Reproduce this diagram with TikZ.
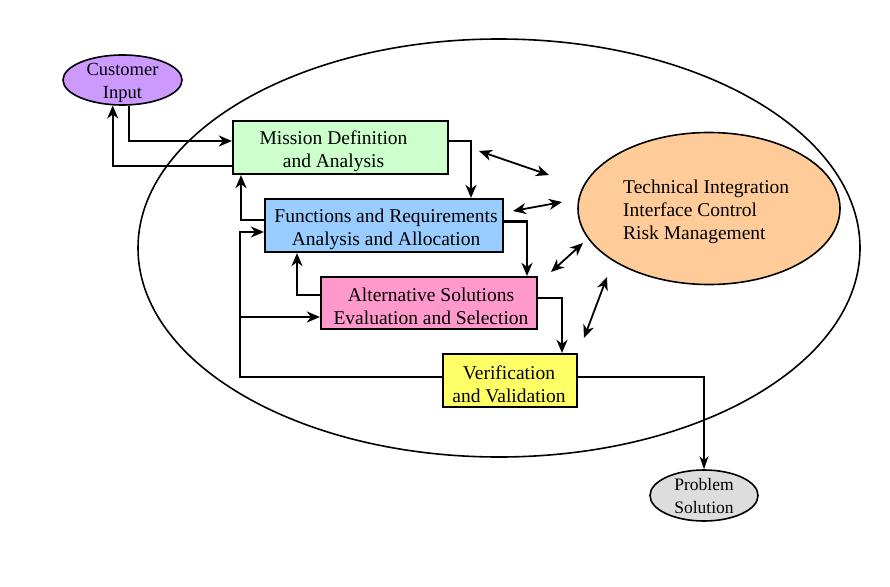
\documentclass[tikz,border=0pt]{standalone}
\usepackage{fontspec}
\setmainfont{Liberation Serif}
\usetikzlibrary{shapes.geometric,arrows.meta,calc}
\definecolor{custc}{HTML}{CC99FF}
\definecolor{missc}{HTML}{CCFFCC}
\definecolor{funcc}{HTML}{99CCFF}
\definecolor{altc}{HTML}{FF99CC}
\definecolor{verc}{HTML}{FFFF66}
\definecolor{techc}{HTML}{FFCC99}
\definecolor{probc}{HTML}{DDDDDD}
\tikzset{
  boxnode/.style={draw=black, line width=2.2pt, rectangle, inner sep=0pt},
  ovalnode/.style={draw=black, line width=1.6pt, ellipse, inner sep=0pt},
  txt/.style={inner sep=0pt, align=center, font=\fontsize{19.5}{23}\selectfont},
  arr/.style={line width=2.2pt, -{Stealth[length=13pt,width=11pt,inset=4pt]}},
  thinarr/.style={line width=1.2pt, -{Stealth[length=13pt,width=9pt,inset=4pt]}},
  dbl/.style={line width=1.8pt, {Stealth[length=13pt,width=11pt,inset=4pt]}-{Stealth[length=13pt,width=11pt,inset=4pt]}}
}
\begin{document}
\begin{tikzpicture}[x=1pt,y=-1pt]
\useasboundingbox[fill=white] (0,0) rectangle (890,586);
% big ellipse
\node[ovalnode, minimum width=722, minimum height=418] (big) at (499,248) {};
% shapes
\node[ovalnode, fill=custc, minimum width=119, minimum height=50] (cust) at (122.5,80) {};
\node[boxnode, fill=missc, minimum width=215, minimum height=53] (mission) at (340.5,147.5) {};
\node[boxnode, fill=funcc, minimum width=238, minimum height=53] (func) at (384,225.5) {};
\node[boxnode, fill=altc, minimum width=216, minimum height=52] (alt) at (429,303) {};
\node[boxnode, fill=verc, minimum width=134, minimum height=53] (ver) at (510,380.5) {};
\node[ovalnode, fill=techc, minimum width=262, minimum height=152] (tech) at (709,208.5) {};
\node[ovalnode, fill=probc, minimum width=108, minimum height=51] (prob) at (704,495.5) {};
% texts
\node[txt, font=\fontsize{18.5}{23}\selectfont] (custtext) at ($(cust)+(0,3)$) {Customer\\Input};
\node[txt] (misstext) at ($(mission)+(-7,3.5)$) {Mission Definition\\and Analysis};
\node[txt] (functext) at ($(func)+(2,3.5)$) {Functions and Requirements\\Analysis and Allocation};
\node[txt] (alttext) at ($(alt)+(2,3.5)$) {Alternative Solutions\\Evaluation and Selection};
\node[txt] (vertext) at ($(ver)+(-1,3.5)$) {Verification\\and Validation};
\node[txt, align=left, anchor=west] (techtext) at (623,211.5)
  {Technical Integration\\Interface Control\\Risk Management};
\node[txt, font=\fontsize{17.5}{23}\selectfont] (probtext) at ($(prob)+(0,1)$) {Problem\\Solution};
% connectors
\draw[arr] (cust.-75) |- ($(mission.west)+(0,-6.5)$);
\draw[arr] ($(mission.west)+(0,18.5)$) -| (cust.-111);
\draw[arr] ($(mission.east)+(0,-6.5)$) -| ($(func.north)+(87,0)$);
\draw[arr] ($(func.west)+(0,-5.5)$) -| ($(mission.south)+(-99.5,0)$);
\draw[arr] ($(ver.west)+(0,-3.5)$) -- ++(-202,0) |- ($(func.west)+(0,6.5)$);
\draw[arr] ($(alt.west)+(-80,14)$) -- ($(alt.west)+(0,14)$);
\draw[arr] ($(alt.west)+(0,-8)$) -| ($(func.south)+(-87,0)$);
\draw[arr] ($(func.east)+(0,-4)$) -| ($(alt.north)+(98,0)$);
\draw[arr] ($(alt.east)+(0,-5)$) -| ($(ver.north)+(52,0)$);
\draw[thinarr] ($(ver.east)+(0,-3.5)$) -| (prob.north);
% double arrows
\coordinate (d1a) at (479,151); \coordinate (d1b) at (549,175);
\coordinate (d2a) at (513,211); \coordinate (d2b) at (562,202);
\coordinate (d3a) at (551,272); \coordinate (d3b) at (583,243);
\coordinate (d4a) at (584,338); \coordinate (d4b) at (607,277);
\draw[dbl] (d1a) -- (d1b);
\draw[dbl] (d2a) -- (d2b);
\draw[dbl] (d3a) -- (d3b);
\draw[dbl] (d4a) -- (d4b);
\end{tikzpicture}
\end{document}
